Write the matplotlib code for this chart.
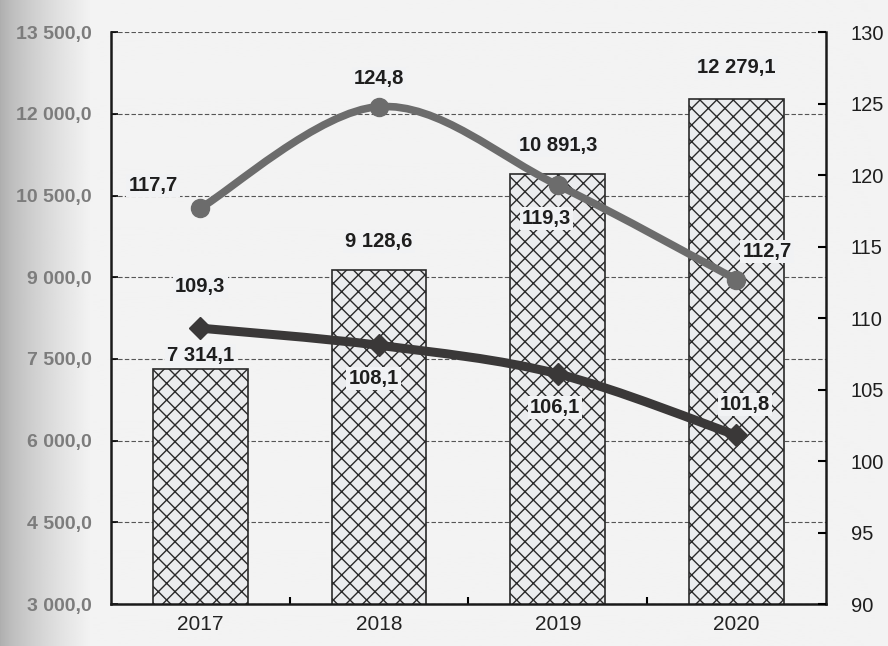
import numpy as np
import matplotlib.pyplot as plt
from matplotlib.path import Path
from matplotlib.patches import PathPatch

years = ['2017', '2018', '2019', '2020']
volume = [7314.1, 9128.6, 10891.3, 12279.1]
index_nominal = [117.7, 124.8, 119.3, 112.7]
index_real = [109.3, 108.1, 106.1, 101.8]

left_ticks = [3000, 4500, 6000, 7500, 9000, 10500, 12000, 13500]
right_ticks = [90, 95, 100, 105, 110, 115, 120, 125, 130]


def ru(v, nd=1):
    return f"{v:,.{nd}f}".replace(',', ' ').replace('.', ',')


def smooth_path(xs, ys):
    # bezier through the points, like a spreadsheet "smoothed line"
    pts = np.column_stack([xs, ys]).astype(float)
    ext = np.vstack([pts[0], pts, pts[-1]])
    verts = [pts[0]]
    codes = [Path.MOVETO]
    for i in range(len(pts) - 1):
        p0, p1, p2, p3 = ext[i], ext[i + 1], ext[i + 2], ext[i + 3]
        verts += [p1 + (p2 - p0) / 6, p2 - (p3 - p1) / 6, p2]
        codes += [Path.CURVE4] * 3
    return Path(verts, codes)


plt.rcParams['font.family'] = ['Liberation Sans', 'DejaVu Sans']
plt.rcParams['hatch.linewidth'] = 1.0
plt.rcParams['hatch.color'] = '#3a3a3a'
paper = '#f1f2f4'
fig = plt.figure(figsize=(8.88, 6.46), dpi=100, facecolor=paper)

# shadow on the left edge of the scanned page
bg = fig.add_axes([0, 0, 1, 1], zorder=-10)
grad = np.clip(np.linspace(0, 1, 888) / 0.1, 0, 1) ** 0.7
img = np.outer(np.ones(10), 0.68 + 0.27 * grad)
bg.imshow(img, cmap='gray', vmin=0, vmax=1, aspect='auto', extent=[0, 1, 0, 1])
bg.axis('off')

ax = fig.add_axes([0.125, 0.065, 0.805, 0.885])
ax.patch.set_alpha(0)
x = np.arange(len(years))

ax.bar(x, volume, width=0.53, color='#ebecee', edgecolor='#2a2a2a',
       linewidth=1.2, hatch='xx', zorder=2)

ax.set_xlim(-0.5, 3.5)
ax.set_ylim(3000, 13500)
ax.set_yticks(left_ticks)
ax.set_yticklabels([ru(v) for v in left_ticks], fontsize=14, color='#7c7c7c',
                   fontweight='bold')
ax.set_xticks(x)
ax.set_xticklabels(years, fontsize=15, color='#222222')
ax.set_xticks([0.5, 1.5, 2.5], minor=True)
ax.tick_params(axis='x', which='major', length=0, pad=8)
ax.tick_params(axis='x', which='minor', direction='in', length=5, width=1.5)
ax.tick_params(axis='y', direction='in', length=5, width=1.2, pad=14)
ax.grid(axis='y', linestyle=(0, (4, 2)), color='#555555', linewidth=0.8)
ax.set_axisbelow(True)
for s in ['left', 'bottom', 'right']:
    ax.spines[s].set_linewidth(1.8)
    ax.spines[s].set_color('#1a1a1a')
ax.spines['top'].set_visible(False)

bar_offsets = [(0, 3), (0, 14), (0, 14), (0, 16)]
for xi, v, off in zip(x, volume, bar_offsets):
    ax.annotate(ru(v), (xi, v), xytext=off, textcoords='offset points',
                ha='center', va='bottom', fontsize=14.5, fontweight='bold',
                color='#1e1e1e',
                bbox=dict(boxstyle='square,pad=0.1', fc=paper, ec='none'),
                zorder=6)

ax2 = ax.twinx()
ax2.set_ylim(90, 130)
ax2.set_yticks(right_ticks)
ax2.set_yticklabels([str(v) for v in right_ticks], fontsize=14.5,
                    color='#1e1e1e')
ax2.tick_params(axis='y', direction='in', length=6, width=1.5, pad=18)
for s in ax2.spines.values():
    s.set_visible(False)

ax2.add_patch(PathPatch(smooth_path(x, index_nominal), fill=False,
                        ec='#6c6c6c', lw=5.5, capstyle='round', zorder=4))
ax2.plot(x, index_nominal, 'o', ms=13, color='#6c6c6c', zorder=5)
ax2.add_patch(PathPatch(smooth_path(x, index_real), fill=False,
                        ec='#3a3838', lw=6.5, capstyle='round', zorder=4))
ax2.plot(x, index_real, 'D', ms=11, color='#3a3838', zorder=5)

nom_offsets = [(-34, 16), (0, 20), (-8, -24), (22, 20)]
real_offsets = [(0, 30), (-4, -24), (-2, -24), (6, 22)]
for xi, v, off in zip(x, index_nominal, nom_offsets):
    ax2.annotate(ru(v), (xi, v), xytext=off, textcoords='offset points',
                 ha='center', va='center', fontsize=14.5, fontweight='bold',
                 color='#1e1e1e',
                 bbox=dict(boxstyle='square,pad=0.1', fc=paper, ec='none'),
                 zorder=6)
for xi, v, off in zip(x, index_real, real_offsets):
    ax2.annotate(ru(v), (xi, v), xytext=off, textcoords='offset points',
                 ha='center', va='center', fontsize=14.5, fontweight='bold',
                 color='#1e1e1e',
                 bbox=dict(boxstyle='square,pad=0.1', fc=paper, ec='none'),
                 zorder=6)

fig.savefig('out.png', dpi=100, facecolor=fig.get_facecolor())
